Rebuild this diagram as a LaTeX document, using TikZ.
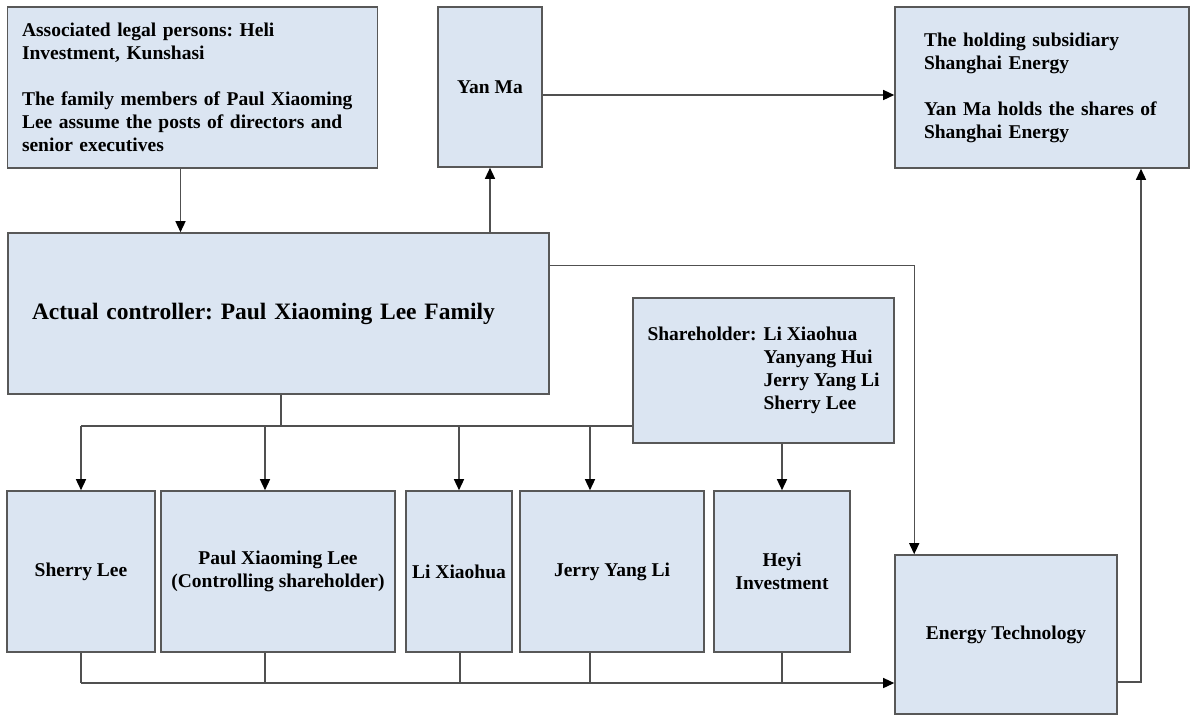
\documentclass[tikz,border=0pt]{standalone}
\usepackage{fontspec}
\setmainfont{Liberation Serif}
\usetikzlibrary{arrows.meta}
\definecolor{boxfill}{RGB}{219,229,242}
\definecolor{boxline}{RGB}{88,88,88}
\definecolor{linegray}{RGB}{80,80,80}
\frenchspacing
\begin{document}
\begin{tikzpicture}[x=1pt,y=-1pt,
    box/.style={draw=boxline,fill=boxfill,line width=1.6pt,inner sep=2pt,align=center,
      font=\fontsize{19.5}{23}\selectfont\bfseries},
    sz/.style 2 args={minimum width=#1pt,minimum height=#2pt},
    wire/.style={draw=linegray,line width=1.4pt},
    arr/.style={wire,-{Triangle[black,length=11pt,width=10pt]}}]
    \useasboundingbox (0,0) rectangle (1193,716);
    % top row
    \node[box,sz={370}{161},text width=341pt,align=left] (assoc) at (192.5,87.5)
      {Associated legal persons: Heli\\Investment, Kunshasi\\[23pt]
       The family members of Paul Xiaoming\\Lee assume the posts of directors and\\senior executives};
    \node[box,sz={104}{160}] (yan) at (490,87) {Yan Ma};
    \node[box,sz={294}{161},text width=236pt,align=left] (hold) at (1042,87.5)
      {The holding subsidiary\\Shanghai Energy\\[23pt]Yan Ma holds the shares of\\Shanghai Energy};
    % middle
    \node[box,sz={541}{161},text width=493pt,align=left,font=\fontsize{23.5}{28}\selectfont\bfseries]
      (ctrl) at (278.5,313.5) {Actual controller: Paul Xiaoming Lee Family};
    \node[box,sz={261}{145}] (share) at (763.5,370.5)
      {\begin{tabular}{@{}l@{\hspace{7pt}}l@{}}
        Shareholder: & Li Xiaohua\\ & Yanyang Hui\\ & Jerry Yang Li\\ & Sherry Lee
       \end{tabular}};
    % bottom row
    \node[box,sz={148}{161}] (sherry) at (81,571.5) {Sherry Lee};
    \node[box,sz={234}{161}] (paul) at (278,571.5) {Paul Xiaoming Lee\\(Controlling shareholder)};
    \node[box,sz={106}{161}] (li) at (459,571.5) {Li Xiaohua};
    \node[box,sz={184}{161}] (jerry) at (612,571.5) {Jerry Yang Li};
    \node[box,sz={136}{161}] (heyi) at (782,571.5) {Heyi\\Investment};
    \node[box,sz={222}{159}] (ener) at (1006,634.5) {Energy Technology};
    % connectors
    \coordinate (split) at (0,426);
    \coordinate (join) at (0,683);
    \draw[arr] ([xshift=-12pt]assoc.south) -- ([xshift=-12pt]assoc.south |- ctrl.north);
    \draw[arr] (yan.south |- ctrl.north) -- (yan.south);
    \draw[arr] ([yshift=-8pt]yan.east) -- ([yshift=-8pt]yan.east -| hold.west);
    \draw[arr] ([yshift=-33pt]ctrl.north east) -| ([xshift=20pt]ener.north west);
    \draw[wire] ([xshift=2.5pt]ctrl.south) -- ([xshift=2.5pt]ctrl.south |- split);
    \draw[wire] (sherry.north |- split) -- (split -| share.west);
    \foreach \n/\dx in {sherry/0,paul/-13,li/0,jerry/-22}
      \draw[arr] ([xshift=\dx pt]\n.north |- split) -- ([xshift=\dx pt]\n.north);
    \draw[arr] (heyi.north |- share.south) -- (heyi.north);
    \foreach \n/\dx in {sherry/0,paul/-13,li/1,jerry/-22,heyi/0}
      \draw[wire] ([xshift=\dx pt]\n.south) -- ([xshift=\dx pt]\n.south |- join);
    \draw[arr] (sherry.south |- join) -- (join -| ener.west);
    \draw[arr] ([yshift=-47.5pt]ener.east) -| ([xshift=99pt]hold.south);
\end{tikzpicture}
\end{document}
